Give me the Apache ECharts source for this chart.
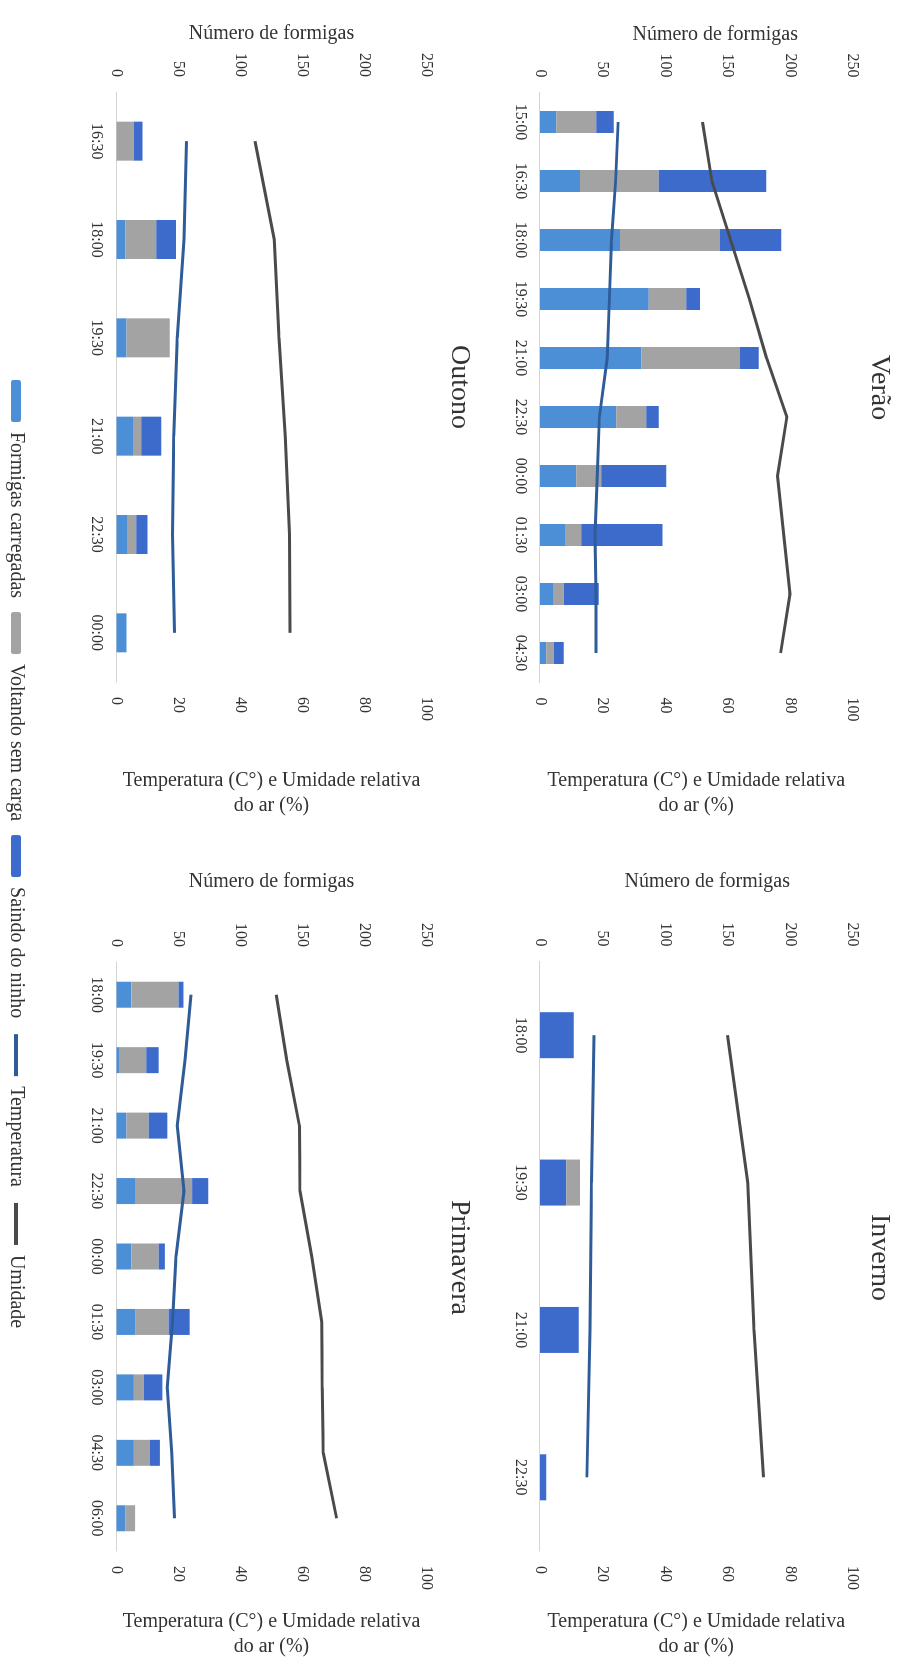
<!DOCTYPE html>
<html><head><meta charset="utf-8">
<script src="https://cdn.jsdelivr.net/npm/echarts@6/dist/echarts.min.js"></script>
<style>
html,body{margin:0;padding:0;overflow:hidden;background:#fff;width:909px;height:1660px}
#wrap{position:absolute;left:0;top:0;width:1660px;height:909px;transform-origin:0 0;transform:translate(909px,0) rotate(90deg);background:#fff}
</style></head><body><div id="wrap"></div>
<script>
// ---- data ----
const seriesNames = ['Formigas carregadas','Voltando sem carga','Saindo do ninho','Temperatura','Umidade'];
const panelTitles = ['Verão','Inverno','Outono','Primavera'];
const countAxisName = 'Número de formigas';
const climAxisName = 'Temperatura (C°) e Umidade relativa\ndo ar (%)';
const countMax = 250, countStep = 50;
const climMax = 100, climStep = 20;

const veraoCats = ['15:00','16:30','18:00','19:30','21:00','22:30','00:00','01:30','03:00','04:30'];
const veraoCarregadas = [13, 32, 64, 87, 81, 61, 29, 20, 11, 5];
const veraoVoltando   = [32, 63, 80, 30, 79, 24, 20, 13, 8, 6];
const veraoSaindo     = [14, 86, 49, 11, 15, 10, 52, 65, 28, 8];
const veraoTemp       = [25, 24.2, 22.9, 22.2, 21.5, 19, 18.3, 17.6, 17.9, 17.9];
const veraoUmid       = [52, 55, 61, 67, 72.5, 79, 76, 78, 80, 77];

const invernoCats = ['18:00','19:30','21:00','22:30'];
const invernoCarregadas = [0, 0, 0, 0];
const invernoVoltando   = [0, 11, 0, 0];
const invernoSaindo     = [27, 21, 31, 5];
const invernoTemp       = [17.3, 16.5, 16, 15];
const invernoUmid       = [60, 66.5, 68.5, 71.5];

const outonoCats = ['16:30','18:00','19:30','21:00','22:30','00:00'];
const outonoCarregadas = [0, 7, 8, 14, 9, 8];
const outonoVoltando   = [14, 25, 35, 6, 7, 0];
const outonoSaindo     = [7, 16, 0, 16, 9, 0];
const outonoTemp       = [22.6, 21.8, 19.6, 18.5, 18.1, 18.7];
const outonoUmid       = [44.7, 50.9, 52.4, 54.4, 55.8, 56];

const primaveraCats = ['18:00','19:30','21:00','22:30','00:00','01:30','03:00','04:30','06:00'];
const primaveraCarregadas = [12, 2, 8, 15, 12, 15, 14, 14, 7];
const primaveraVoltando   = [38, 22, 18, 46, 22, 27, 8, 13, 8];
const primaveraSaindo     = [4, 10, 15, 13, 5, 17, 15, 8, 0];
const primaveraTemp       = [24, 22.1, 19.6, 21.8, 19.2, 18.1, 16.4, 17.8, 18.7];
const primaveraUmid       = [51.5, 54.9, 59, 59.2, 63, 66.2, 66.4, 66.7, 71];

// ---- layout & style ----
const FONT = 'Liberation Serif';
const TXT = '#333333';
const colors = ['#4d8fd6', '#a3a3a3', '#3d6bcc', '#2e5c99', '#4a4a4a'];

const panels = [
  {title: panelTitles[0], cats: veraoCats, bars: [veraoCarregadas, veraoVoltando, veraoSaindo], order: [0,1,2], temp: veraoTemp, umid: veraoUmid,
   grid: {left: 92.5, top: 56.5, width: 590, height: 312.5}, barW: 22, titleTop: 16, nameGapL: 48, nameGapR: 86, namePadL: 38},
  {title: panelTitles[1], cats: invernoCats, bars: [invernoCarregadas, invernoVoltando, invernoSaindo], order: [2,1,0], temp: invernoTemp, umid: invernoUmid,
   grid: {left: 961.5, top: 56.5, width: 592, height: 312.5}, barW: 46, titleTop: 16, nameGapL: 70, nameGapR: 58, namePadL: 22},
  {title: panelTitles[2], cats: outonoCats, bars: [outonoCarregadas, outonoVoltando, outonoSaindo], order: [0,1,2], temp: outonoTemp, umid: outonoUmid,
   grid: {left: 92, top: 482.5, width: 590, height: 310}, barW: 39, titleTop: 436, nameGapL: 48, nameGapR: 86, namePadL: 0},
  {title: panelTitles[3], cats: primaveraCats, bars: [primaveraCarregadas, primaveraVoltando, primaveraSaindo], order: [0,1,2], temp: primaveraTemp, umid: primaveraUmid,
   grid: {left: 962, top: 482.5, width: 591, height: 310}, barW: 26, titleTop: 436, nameGapL: 70, nameGapR: 58, namePadL: 0}
];

const option = {
  animation: false,
  backgroundColor: '#ffffff',
  textStyle: {fontFamily: FONT, color: TXT},
  title: [], grid: [], xAxis: [], yAxis: [], series: [],
  legend: {
    data: seriesNames.map((n, k) => k < 3 ? {name: n} :
      {name: n, itemStyle: {opacity: 0}, lineStyle: {width: 4, color: colors[k]}}),
    left: 375, top: 878, itemWidth: 42, itemHeight: 10, itemGap: 14,
    textStyle: {fontFamily: FONT, fontSize: 20, color: TXT, padding: [0,0,0,5]}
  }
};

panels.forEach((p, i) => {
  const g = p.grid;
  option.grid.push({left: g.left, top: g.top, width: g.width, height: g.height, containLabel: false});
  option.title.push({text: p.title, left: g.left + g.width / 2, top: p.titleTop, textAlign: 'center', padding: 0,
    textStyle: {fontFamily: FONT, fontSize: 28, fontWeight: 'normal', color: TXT}});
  option.xAxis.push({type: 'category', gridIndex: i, data: p.cats, boundaryGap: true,
    axisLine: {show: true, lineStyle: {color: '#d4d4d4', width: 1}}, axisTick: {show: false},
    axisLabel: {fontFamily: FONT, fontSize: 16, color: TXT, margin: 12}});
  option.yAxis.push({type: 'value', gridIndex: i, position: 'left', min: 0, max: countMax, interval: countStep,
    name: countAxisName, nameLocation: 'middle', nameRotate: 90, nameGap: p.nameGapL,
    nameTextStyle: {fontFamily: FONT, fontSize: 20, color: TXT, padding: [0, 0, 0, p.namePadL]},
    axisLine: {show: false}, axisTick: {show: false}, splitLine: {show: false},
    axisLabel: {fontFamily: FONT, fontSize: 16, color: TXT, margin: 15}});
  option.yAxis.push({type: 'value', gridIndex: i, position: 'right', min: 0, max: climMax, interval: climStep,
    name: climAxisName, nameLocation: 'middle', nameRotate: 90, nameGap: p.nameGapR,
    nameTextStyle: {fontFamily: FONT, fontSize: 20, color: TXT, lineHeight: 25},
    axisLine: {show: false}, axisTick: {show: false}, splitLine: {show: false},
    axisLabel: {fontFamily: FONT, fontSize: 16, color: TXT, margin: 15}});
  p.order.forEach(k => {
    option.series.push({type: 'bar', name: seriesNames[k], xAxisIndex: i, yAxisIndex: 2 * i, stack: 'st' + i,
      barWidth: p.barW, data: p.bars[k], itemStyle: {color: colors[k]}});
  });
  option.series.push({type: 'line', name: seriesNames[3], xAxisIndex: i, yAxisIndex: 2 * i + 1, data: p.temp,
    symbol: 'none', lineStyle: {color: colors[3], width: 3}, itemStyle: {color: colors[3]}, z: 5});
  option.series.push({type: 'line', name: seriesNames[4], xAxisIndex: i, yAxisIndex: 2 * i + 1, data: p.umid,
    symbol: 'none', lineStyle: {color: colors[4], width: 3}, itemStyle: {color: colors[4]}, z: 5});
});

const chart = echarts.init(document.getElementById('wrap'), null, {renderer: 'canvas', width: 1660, height: 909});
chart.setOption(option);
</script>
</body></html>
